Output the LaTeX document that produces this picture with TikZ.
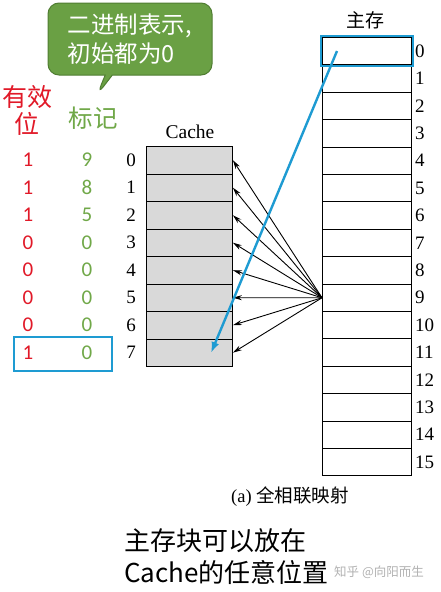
\documentclass[tikz,border=0pt]{standalone}
\usepackage{fontspec}
\setmainfont{Liberation Serif}
\newfontfamily\cjk{Noto Sans CJK SC}
\newfontfamily\calib{Carlito}
\usetikzlibrary{shapes.callouts,arrows.meta,fit}
\definecolor{vred}{RGB}{225,25,40}
\definecolor{tgreen}{RGB}{112,168,72}
\definecolor{cgreen}{RGB}{106,160,68}
\definecolor{cgreendark}{RGB}{80,125,50}
\definecolor{hblue}{RGB}{30,155,210}
\definecolor{cachegray}{RGB}{217,217,217}
\tikzset{
  cacherow/.style={draw, fill=cachegray, line width=0.9pt, minimum width=86pt, minimum height=27.5pt, anchor=north west, inner sep=0pt},
  memrow/.style={draw, fill=white, line width=0.9pt, minimum width=89pt, minimum height=27.4pt, anchor=north west, inner sep=0pt},
  idx/.style={font=\fontsize{19}{19}\selectfont, inner sep=0pt},
  vbit/.style={font=\calib\fontsize{21}{21}\selectfont, text=vred, inner sep=0pt},
  tbit/.style={font=\calib\fontsize{21}{21}\selectfont, text=tgreen, inner sep=0pt},
  maparrow/.style={-{Stealth[length=9pt,width=5pt]}, line width=0.9pt},
  bluebox/.style={draw=hblue, line width=1.8pt, inner sep=0pt},
  bluearrow/.style={-{Latex[length=11pt,width=8pt]}, draw=hblue, line width=2.4pt}
}
\begin{document}
\begin{tikzpicture}[x=1pt,y=-1pt]
\useasboundingbox[fill=white] (0,0) rectangle (440,592);

% callout
\coordinate (tip) at (97,95);
\node[rectangle callout, callout absolute pointer={(tip)}, fill=cgreen, draw=cgreendark, line width=1pt, rounded corners=11pt,
      minimum width=164pt, minimum height=72pt, inner sep=0pt, text=white, align=left,
      font=\cjk\fontsize{23.5}{29}\selectfont] (call) at (130,39) {二进制表示,\\初始都为0};

% headers
\node[font=\cjk\fontsize{25}{27}\selectfont, text=vred, align=center, inner sep=0pt] (hv) at (27,110) {有效\\位};
\node[font=\cjk\fontsize{24.5}{24}\selectfont, text=tgreen, inner sep=0pt] (ht) at (93,118) {标记};
\node[font=\fontsize{19.5}{19}\selectfont, inner sep=0pt] (hc) at (190,132) {Cache};
\node[font=\cjk\fontsize{19}{19}\selectfont, inner sep=0pt] (hm) at (365,20) {主存};

% cache rows
\foreach \i in {0,...,7} {
  \node[cacherow] (c\i) at (146,{146+27.5*\i}) {};
  \node[idx] (ci\i) at (131,{160+27.5*\i}) {\i};
}
\foreach \v [count=\i from 0] in {1,1,1,0,0,0,0,1} {
  \node[vbit] (v\i) at (28,{160+27.5*\i}) {\v};
}
\foreach \t [count=\i from 0] in {9,8,5,0,0,0,0,0} {
  \node[tbit] (t\i) at (87,{160+27.5*\i}) {\t};
}

% main memory rows
\foreach \i in {0,...,15} {
  \node[memrow] (m\i) at (322,{37+27.4*\i}) {};
  \node[idx, anchor=west] (mi\i) at (415,{51+27.4*\i}) {\i};
}

% mapping arrows
\foreach \i in {0,...,7} {
  \draw[maparrow] (m9.west) -- (c\i.east);
}

% highlight boxes
\node[bluebox, fit=(m0), inner sep=1pt] (sel0) {};
\node[bluebox, minimum width=98pt, minimum height=34pt] (selv) at (63,354) {};

% blue arrow
\coordinate (bs) at (337,51);
\coordinate (be) at (211,353);
\draw[bluearrow] (bs) -- (be);

% captions
\node[font=\fontsize{18.5}{18}\selectfont, inner sep=0pt] (cap) at (290,497) {(a) {\cjk 全相联映射}};
\node[font=\cjk\fontsize{26}{32}\selectfont, align=left, anchor=north west, inner sep=0pt] (desc) at (124,528) {主存块可以放在\\Cache的任意位置};
\node[font=\cjk\fontsize{12.5}{12.5}\selectfont, text=gray!60, anchor=west, inner sep=0pt] (wm) at (334,572) {知乎 @向阳而生};
\end{tikzpicture}
\end{document}
